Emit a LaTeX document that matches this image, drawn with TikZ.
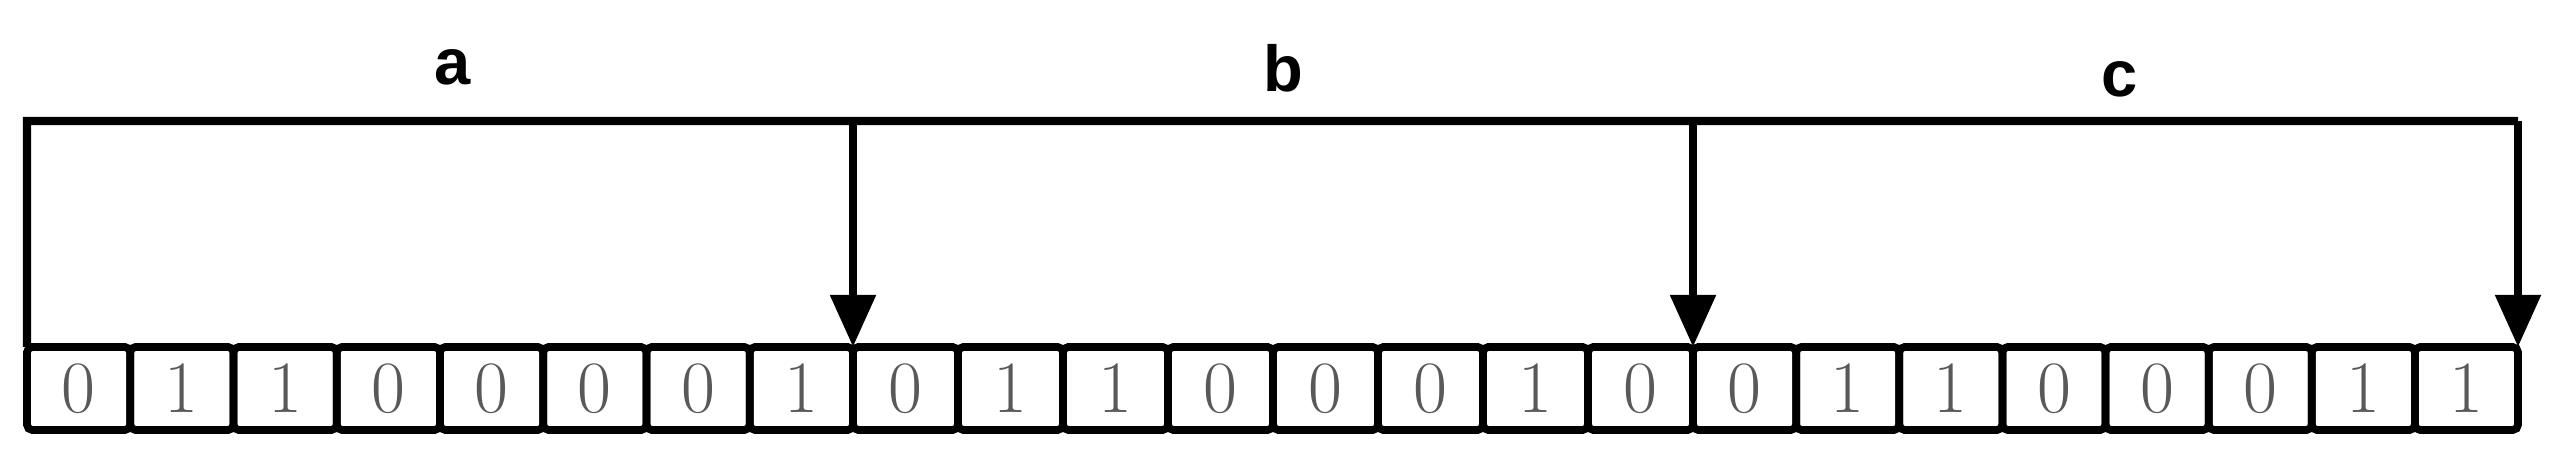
\documentclass[tikz,border=0pt]{standalone}
\usepackage{fontspec}
\newfontfamily\labfont{Liberation Sans}
\usetikzlibrary{arrows.meta}
\tikzset{
  cellbox/.style={draw=black, line width=2.2pt, rounded corners=1.5pt, outer sep=0pt, inner sep=0pt,
    minimum height=0.83cm, text=black!65, font=\fontsize{21}{21}\selectfont},
  frameline/.style={line width=2.4pt, line join=miter},
  arr/.style={line width=2.4pt, -{Triangle[width=0.44cm,length=0.52cm]}},
  lab/.style={font=\labfont\bfseries\fontsize{18.5}{18.5}\selectfont, anchor=base, inner sep=0pt}
}
\begin{document}
\begin{tikzpicture}
\useasboundingbox (0,0) rectangle (25.6,-4.68);
\fill[white] (0,0) rectangle (25.6,-4.68);
\def\bits{{0,1,1,0,0,0,0,1, 0,1,1,0,0,0,1,0, 0,1,1,0,0,0,1,1}}
\foreach \g/\s/\e in {0/27/853, 1/853/1693, 2/1693/2518}{
  \foreach \i in {0,...,7}{
    \pgfmathsetmacro{\w}{(\e-\s)/8/100}
    \pgfmathsetmacro{\cx}{(\s+(\i+0.5)*(\e-\s)/8)/100}
    \pgfmathtruncatemacro{\n}{\g*8+\i+1}
    \pgfmathtruncatemacro{\b}{\bits[\g*8+\i]}
    \node[cellbox, minimum width=\w cm] (c\n) at (\cx,-3.885) {\b};
  }
}
\coordinate (tl) at (0.27,-1.21);
\coordinate (tr) at (25.18,-1.21);
\draw[frameline] (c1.north west) -- (tl) -- (tr);
\draw[arr] (tr) -- (c24.north east);
\draw[arr] (c8.north east |- tl) -- (c8.north east);
\draw[arr] (c16.north east |- tl) -- (c16.north east);
\node[lab] (la) at (4.53,-0.85) {a};
\node[lab] (lb) at (12.83,-0.92) {b};
\node[lab] (lc) at (21.20,-0.97) {c};
\end{tikzpicture}
\end{document}
